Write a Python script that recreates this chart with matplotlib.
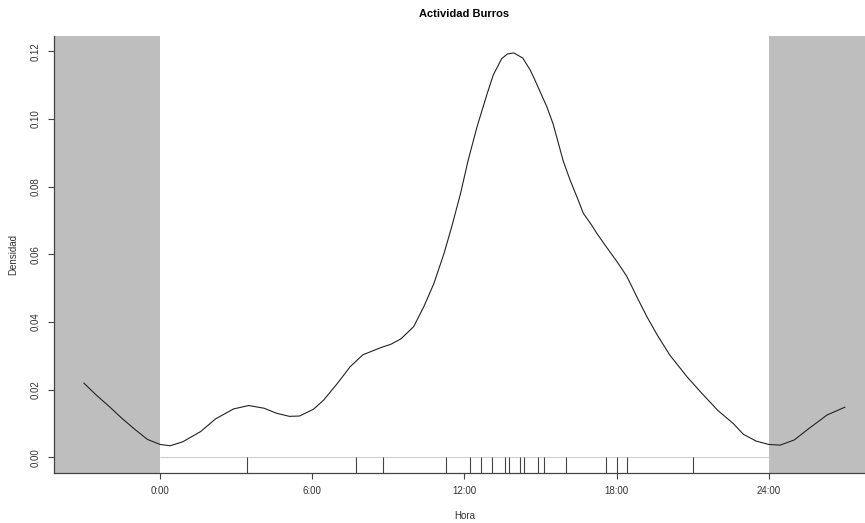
import matplotlib
matplotlib.use('Agg')
import matplotlib.pyplot as plt

plt.rcParams['font.family'] = ['Liberation Sans', 'DejaVu Sans']

# activity density curve (hours, density), drawn over -3..27 h
hours = [-3.0, -2.5, -2.0, -1.5, -1.0, -0.5, 0.0, 0.4, 0.9, 1.6, 2.2, 2.9,
         3.5, 4.1, 4.6, 5.1, 5.5, 6.05, 6.45, 7.0, 7.5, 8.0, 8.7, 9.1, 9.5,
         10.0, 10.4, 10.8, 11.2, 11.5, 11.85, 12.15, 12.5, 12.9, 13.14,
         13.47, 13.7, 13.95, 14.3, 14.6, 14.75, 15.25, 15.5, 15.9, 16.17,
         16.5, 16.69, 17.0, 17.22, 17.5, 17.74, 18.0, 18.2, 18.4, 18.6,
         18.8, 19.2, 19.6, 20.1, 20.8, 21.4, 22.0, 22.6, 23.0, 23.5, 24.0,
         24.45, 25.0, 25.6, 26.3, 27.0]
density = [0.0219, 0.0183, 0.0150, 0.0115, 0.0083, 0.0053, 0.0038, 0.0034,
           0.0046, 0.0076, 0.0114, 0.0143, 0.0153, 0.0145, 0.0130, 0.0121,
           0.0122, 0.0142, 0.0169, 0.0219, 0.0268, 0.0303, 0.0324, 0.0334,
           0.0350, 0.0386, 0.0445, 0.0514, 0.0603, 0.0681, 0.0780, 0.0878,
           0.0977, 0.1075, 0.1130, 0.1178, 0.1192, 0.1195, 0.1180, 0.1144,
           0.1120, 0.1036, 0.0985, 0.0875, 0.0819, 0.0758, 0.0721, 0.0688,
           0.0662, 0.0632, 0.0607, 0.0580, 0.0558, 0.0535, 0.0505, 0.0474,
           0.0415, 0.0362, 0.0302, 0.0236, 0.0186, 0.0138, 0.0100, 0.0068,
           0.0048, 0.0038, 0.0036, 0.0051, 0.0086, 0.0125, 0.0148]

# recorded detection times (hours)
detections = [3.42, 7.72, 8.81, 11.27, 12.22, 12.67, 13.10, 13.60, 13.76,
              14.18, 14.36, 14.91, 15.15, 16.01, 17.60, 18.02, 18.43, 21.03]

tick_pos = [0, 6, 12, 18, 24]
tick_labels = ['0:00', '6:00', '12:00', '18:00', '24:00']
y_ticks = [0.00, 0.02, 0.04, 0.06, 0.08, 0.10, 0.12]

xlim = (-4.18, 28.19)
ylim = (-0.00464, 0.1245)

fig = plt.figure(figsize=(8.65, 5.23), dpi=100)
ax = fig.add_axes([54 / 865, 50 / 523, 821 / 865, 437 / 523])

# night shading outside 0-24 h
ax.axvspan(xlim[0], 0, color='#bebebe', lw=0, zorder=0)
ax.axvspan(24, xlim[1], color='#bebebe', lw=0, zorder=0)

ax.plot(hours, density, color='#222222', lw=0.8, solid_joinstyle='round')

# rug
ax.hlines(0, 0, 24, color='#cfcfcf', lw=0.8)
ax.vlines(detections, ylim[0], 0, color='#444444', lw=0.8)

ax.set_xlim(*xlim)
ax.set_ylim(*ylim)
ax.set_xticks(tick_pos)
ax.set_xticklabels(tick_labels)
ax.set_yticks(y_ticks)
ax.set_yticklabels(['%.2f' % v for v in y_ticks], rotation=90, va='center')

for s in ['top', 'right']:
    ax.spines[s].set_visible(False)
for s in ['left', 'bottom']:
    ax.spines[s].set_color('#444444')
    ax.spines[s].set_linewidth(0.9)

ax.tick_params(direction='out', length=4.3, width=0.8, color='#444444',
               labelsize=7, labelcolor='#333333', pad=5)

ax.set_title('Actividad Burros', fontsize=8, fontweight='bold', pad=14)
ax.set_xlabel('Hora', fontsize=7, color='#333333', labelpad=11)
ax.set_ylabel('Densidad', fontsize=7, color='#333333', labelpad=9)

fig.savefig('out.png', dpi=100)
